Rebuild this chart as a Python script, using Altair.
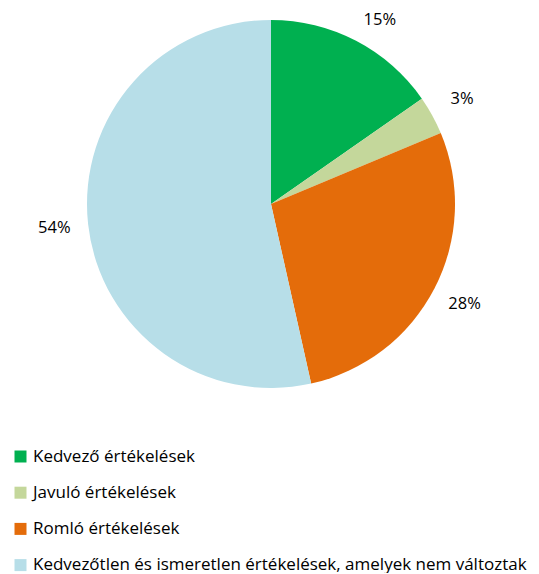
import altair as alt
import pandas as pd

categories = [
    "Kedvező értékelések",
    "Javuló értékelések",
    "Romló értékelések",
    "Kedvezőtlen és ismeretlen értékelések, amelyek nem változtak",
]
values = [15.3, 3.4, 27.8, 53.5]
labels = ["15%", "3%", "28%", "54%"]
colors = ["#00B050", "#C4D79B", "#E46C0A", "#B7DEE8"]

df = pd.DataFrame({
    "cat": categories,
    "val": values,
    "lab": labels,
    "idx": list(range(len(categories))),
})

FONT = "Open Sans"
CX, CY, R = 263, 196, 184

base = alt.Chart(df).encode(
    theta=alt.Theta("val:Q", stack=True),
    order=alt.Order("idx:Q"),
)

arc = base.mark_arc(radius=R, stroke=None).encode(
    x=alt.value(CX),
    y=alt.value(CY),
    color=alt.Color(
        "cat:N",
        scale=alt.Scale(domain=categories, range=colors),
        sort=categories,
        legend=alt.Legend(
            title=None,
            orient="none",
            legendX=4,
            legendY=440,
            symbolType="square",
            symbolSize=144,
            symbolStrokeWidth=0,
            labelFont=FONT,
            labelFontSize=17,
            labelColor="#000000",
            labelLimit=600,
            rowPadding=18.2,
            symbolOffset=0,
            labelOffset=4,
        ),
    ),
)

text_main = base.mark_text(radius=218, font=FONT, fontSize=16.5, color="#000000").encode(
    x=alt.value(CX),
    y=alt.value(CY),
    text=alt.condition(alt.datum.idx != 0, "lab:N", alt.value("")),
)

text_first = base.mark_text(
    radius=214, thetaOffset=0.053, font=FONT, fontSize=16.5, color="#000000"
).encode(
    x=alt.value(CX),
    y=alt.value(CY),
    text=alt.condition(alt.datum.idx == 0, "lab:N", alt.value("")),
)

chart = alt.layer(arc, text_main, text_first).properties(
    width=523,
    height=565,
    autosize=alt.AutoSizeParams(type="none"),
    padding=0,
).configure_view(stroke=None)

chart.save("out.html", embed_options={"renderer": "svg", "actions": False})
